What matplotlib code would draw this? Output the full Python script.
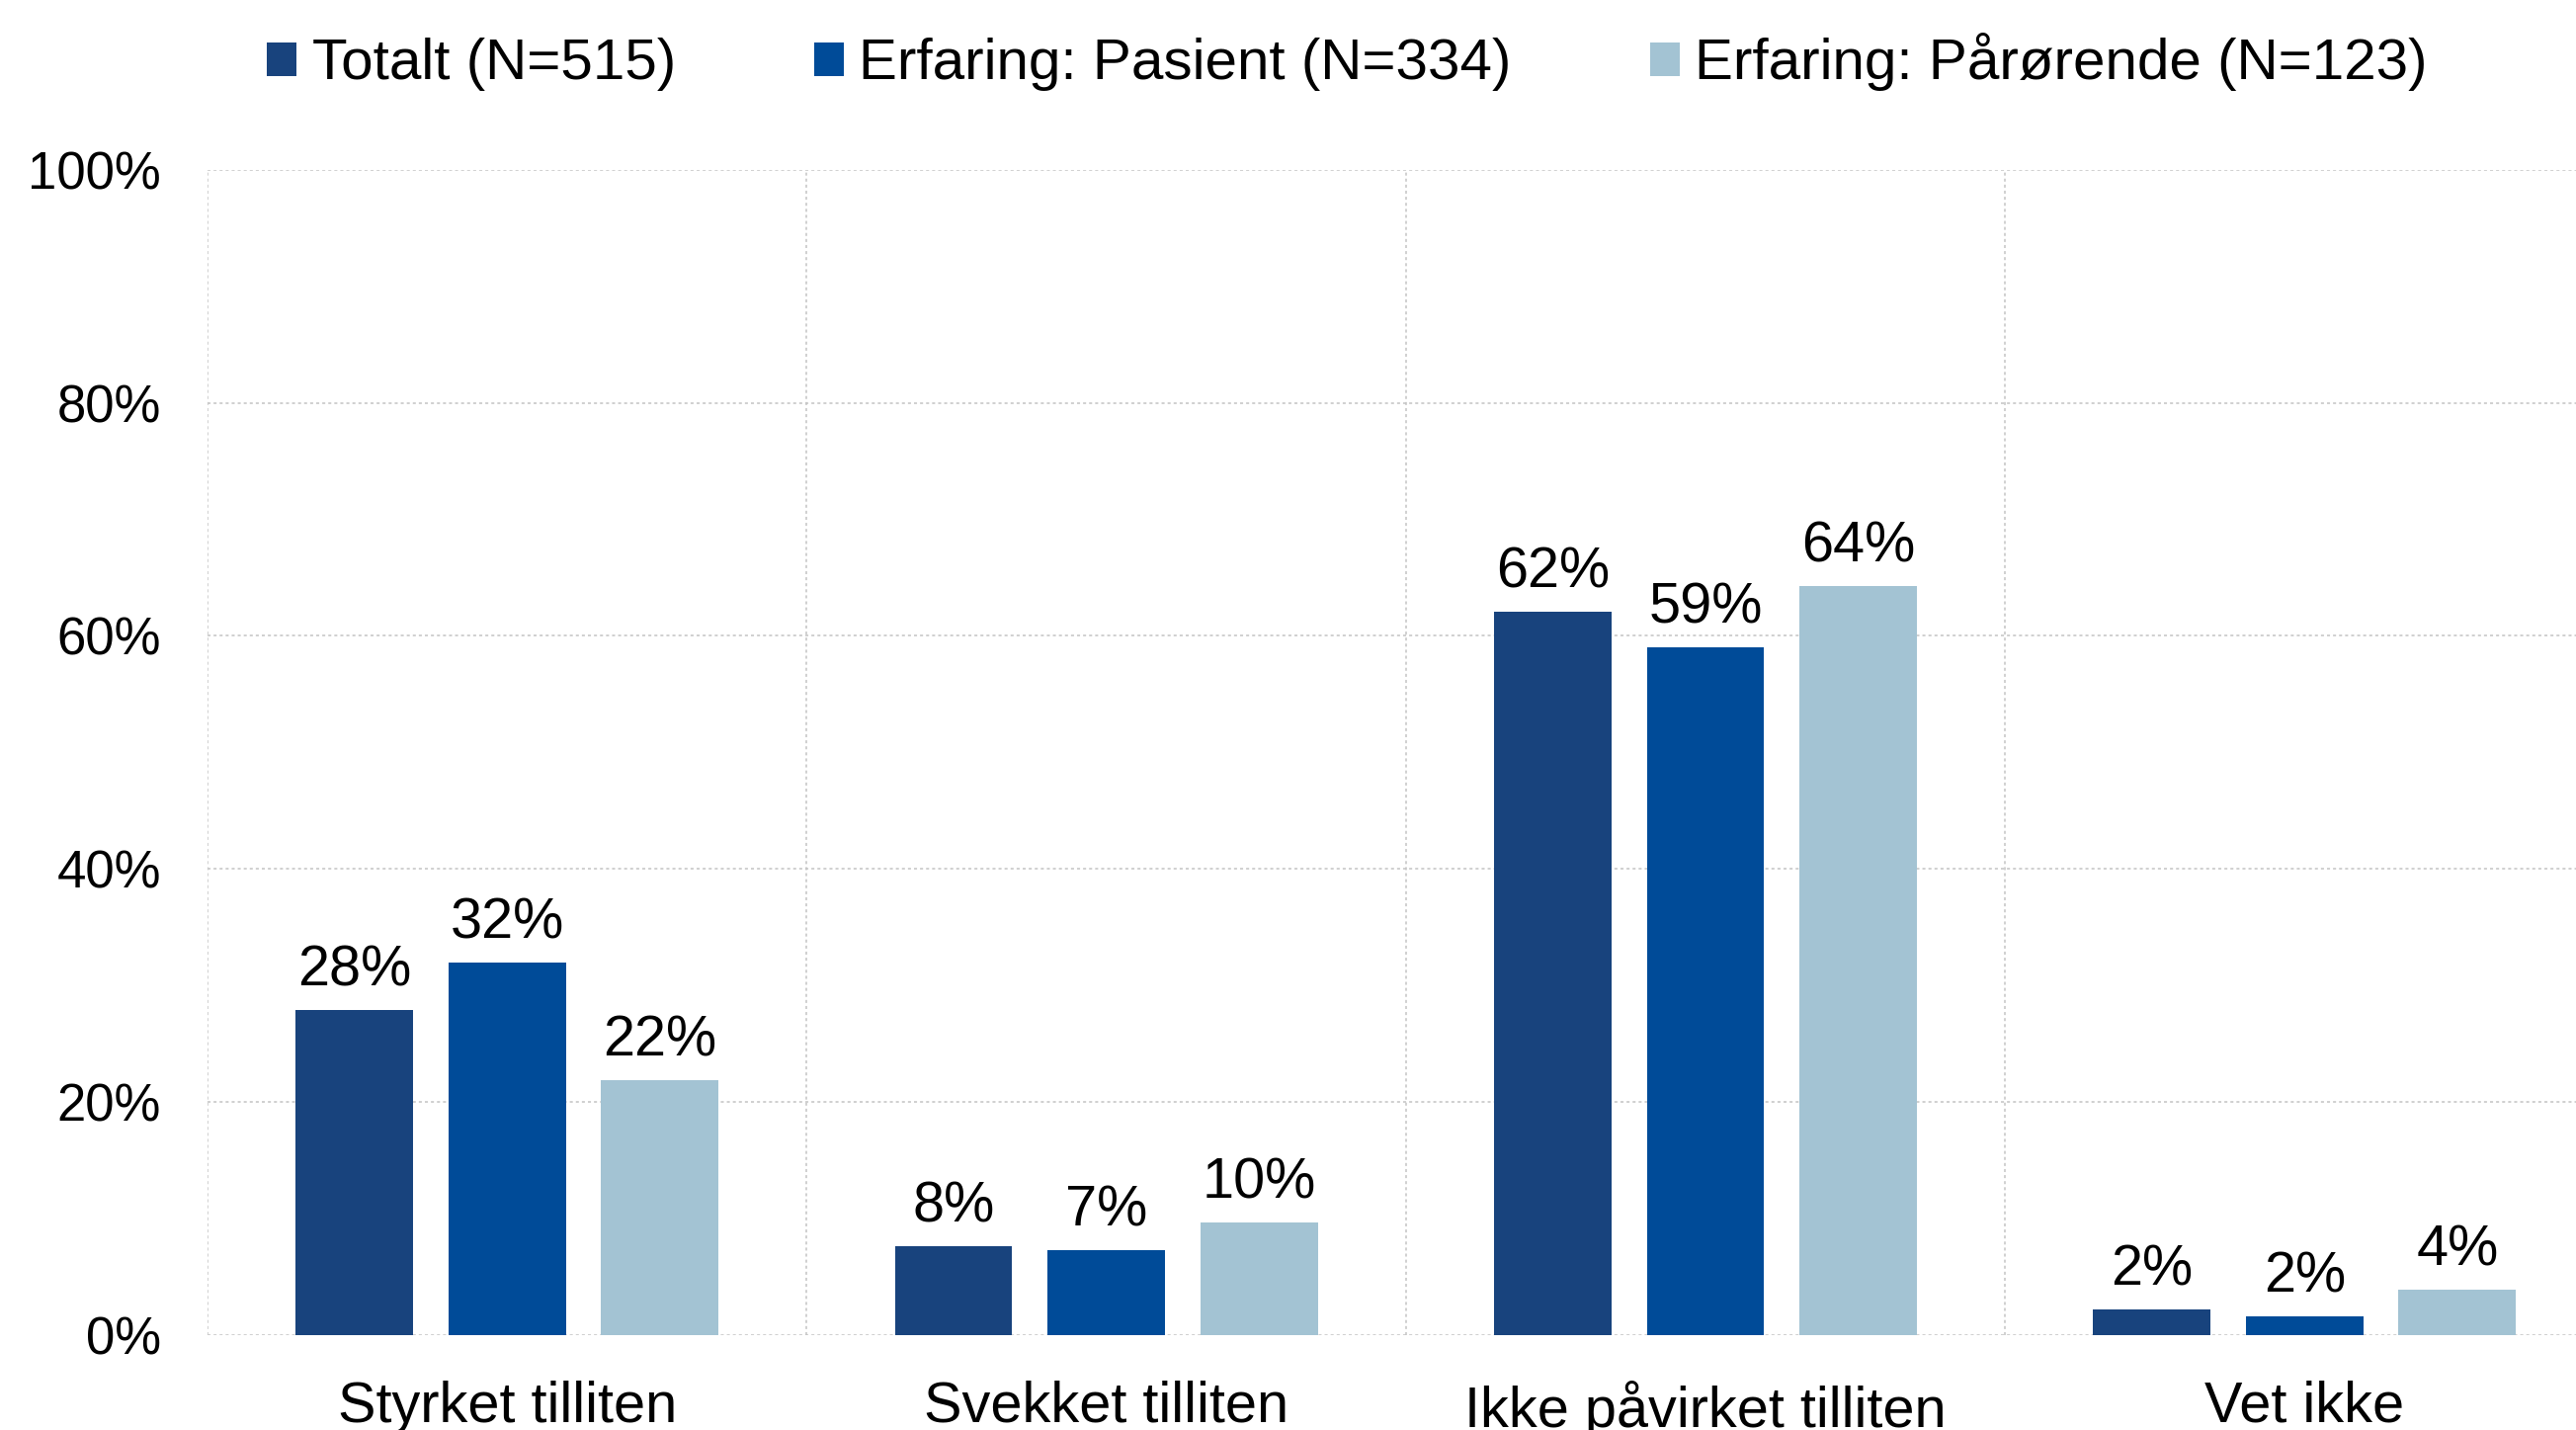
import numpy as np
import matplotlib.pyplot as plt
from matplotlib.patches import Patch

plt.rcParams['font.family'] = ['Liberation Sans', 'DejaVu Sans']

categories = ['Styrket tilliten', 'Svekket tilliten', 'Ikke påvirket tilliten', 'Vet ikke']
series_names = ['Totalt (N=515)', 'Erfaring: Pasient (N=334)', 'Erfaring: Pårørende (N=123)']
totalt = [27.9, 7.6, 62.1, 2.2]
pasient = [32.0, 7.3, 59.0, 1.6]
paarorende = [21.9, 9.7, 64.3, 3.9]
colors = ['#18437d', '#004b98', '#a3c3d3']
yticks = [0, 20, 40, 60, 80, 100]

fig = plt.figure(figsize=(26.07, 14.47), dpi=100)
# axes runs a little past the right edge of the figure
ax = fig.add_axes([0.0806, 0.0663, 0.9303, 0.815])

x = np.arange(len(categories))
offsets = [-0.255, 0, 0.255]
width = 0.196

for vals, off, col in zip([totalt, pasient, paarorende], offsets, colors):
    bars = ax.bar(x + off, vals, width, color=col, zorder=3)
    for b, v in zip(bars, vals):
        ax.annotate(f'{v:.0f}%', (b.get_x() + b.get_width() / 2, v),
                    xytext=(0, 9), textcoords='offset points',
                    ha='center', va='bottom', fontsize=41.5)

ax.set_xlim(-0.5, 3.5)
ax.set_ylim(0, 100)
ax.set_xticks(x)
ax.set_xticklabels(categories, fontsize=41.5)
ax.set_xticks(np.arange(-0.5, 4, 1), minor=True)
ax.set_yticks(yticks)
ax.set_yticklabels([f'{t}%' for t in yticks], fontsize=38)
ax.tick_params(axis='both', which='both', length=0)
ax.tick_params(axis='y', pad=34)
ax.tick_params(axis='x', pad=33)

ax.grid(axis='y', which='major', color='#c4c4c4', linestyle=(0, (2, 2)), linewidth=1.1, zorder=0)
ax.grid(axis='x', which='minor', color='#c4c4c4', linestyle=(0, (2, 2)), linewidth=1.1, zorder=0)
ax.grid(axis='x', which='major', visible=False)
for s in ax.spines.values():
    s.set_visible(False)

handles = [Patch(facecolor=c, edgecolor='none') for c in colors]
fig.legend(handles, series_names, loc='center', bbox_to_anchor=(0.523, 1 - 63 / 1447),
           ncol=3, frameon=False, fontsize=42, handlelength=0.51, handleheight=0.51,
           handletextpad=0.27, columnspacing=2.4)

fig.savefig('out.png', dpi=100)
